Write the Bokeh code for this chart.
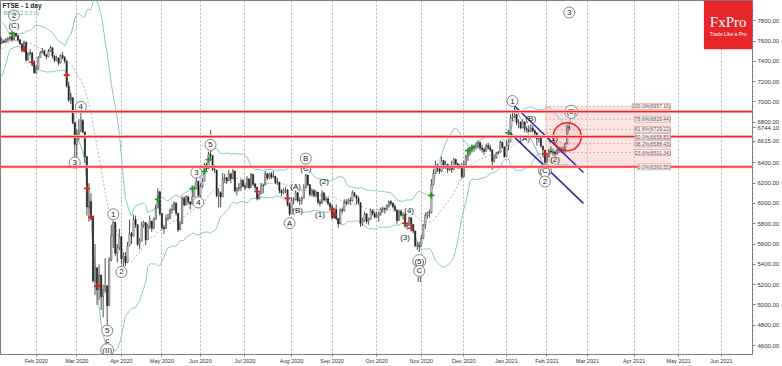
import numpy as np
import pandas as pd
from bokeh.plotting import figure
from bokeh.models import (Range1d, FixedTicker, NumeralTickFormatter,
                          Span, Label, BoxAnnotation)
from bokeh.core.properties import value
from bokeh.embed import file_html
from bokeh.resources import INLINE

# ---------------- data: FTSE daily bars, 10 Dec 2019 .. 16 Feb 2021 ----------------
close = [
    # Dec 2019
    7213, 7216, 7273, 7353, 7519, 7525, 7541, 7573, 7582, 7623, 7632, 7645, 7587, 7542,
    # Jan 2020
    7604, 7622, 7576, 7574, 7575, 7598, 7588, 7618, 7622, 7642, 7609, 7675, 7651, 7610, 7571,
    7507, 7586, 7412, 7481, 7483, 7381, 7286,
    # Feb 2020
    7326, 7439, 7483, 7504, 7466, 7446, 7499, 7534, 7452, 7409, 7433, 7382, 7457, 7437, 7404,
    7157, 7018, 7042, 6796, 6581,
    # Mar 2020
    6654, 6718, 6815, 6705, 6462, 5965, 6018, 5876, 5237, 5366, 5151, 5294, 5080, 5151, 5190,
    4994, 5446, 5688, 5816, 5510, 5563, 5672,
    # Apr 2020
    5454, 5480, 5416, 5582, 5704, 5678, 5843, 5791, 5597, 5628, 5787, 5812, 5641, 5770, 5826,
    5752, 5847, 5958, 6115, 5901,
    # May 2020
    5763, 5753, 5850, 5853, 5935, 5939, 6004, 5904, 5741, 5800, 6049, 5986, 6067, 6015, 5993,
    6068, 6144, 6218, 6077,
    # Jun 2020
    6166, 6220, 6382, 6341, 6484, 6473, 6335, 6329, 6077, 6105, 6064, 6243, 6253, 6224, 6293,
    6245, 6320, 6124, 6147, 6159, 6225, 6170,
    # Jul 2020
    6158, 6240, 6157, 6286, 6190, 6157, 6050, 6095, 6176, 6180, 6293, 6251, 6290, 6261, 6269,
    6207, 6211, 6124, 6104, 6129, 6132, 5990, 5898,
    # Aug 2020
    6032, 6037, 6105, 6027, 6032, 6050, 6154, 6280, 6185, 6090, 6127, 6076, 6112, 6013, 6001,
    6104, 6037, 6045, 6000, 5964,
    # Sep 2020
    5862, 5940, 5851, 5799, 5937, 5930, 6012, 6003, 6032, 6026, 6105, 6079, 6050, 6007, 5804,
    5829, 5899, 5822, 5843, 5927, 5898, 5866,
    # Oct 2020
    5879, 5902, 5942, 5949, 5946, 5978, 6017, 6001, 5969, 5935, 5833, 5920, 5884, 5890, 5777,
    5786, 5860, 5792, 5729, 5583, 5582, 5577,
    # Nov 2020
    5654, 5786, 5883, 5906, 5910, 6186, 6297, 6382, 6339, 6316, 6421, 6365, 6385, 6334, 6351,
    6334, 6432, 6391, 6362, 6368, 6266,
    # Dec 2020
    6385, 6463, 6490, 6550, 6555, 6559, 6564, 6599, 6547, 6531, 6513, 6570, 6551, 6529, 6416,
    6453, 6495, 6502, 6602, 6555, 6461,
    # Jan 2021
    6571, 6612, 6841, 6857, 6873, 6798, 6799, 6745, 6802, 6736, 6720, 6712, 6740, 6715, 6695,
    6638, 6654, 6567, 6526, 6407,
    # Feb 2021
    6466, 6516, 6507, 6504, 6489, 6524, 6532, 6524, 6529, 6589, 6756, 6744.10,
]
high = [
    7240, 7245, 7290, 7530, 7540, 7560, 7550, 7590, 7600, 7630, 7640, 7655, 7650, 7590,
    7610, 7625, 7625, 7610, 7590, 7630, 7615, 7625, 7640, 7650, 7650, 7690, 7680, 7660, 7620,
    7580, 7600, 7580, 7490, 7520, 7490, 7410,
    7360, 7450, 7500, 7530, 7510, 7470, 7520, 7555, 7535, 7460, 7450, 7440, 7470, 7490, 7450,
    7400, 7200, 7090, 7040, 6800,
    6730, 6830, 6900, 6830, 6700, 6250, 6200, 6100, 5880, 5600, 5370, 5400, 5300, 5200, 5460,
    5190, 5470, 5790, 5830, 5800, 5600, 5750,
    5680, 5520, 5520, 5620, 5840, 5720, 5890, 5880, 5790, 5660, 5820, 5830, 5800, 5800, 5880,
    5820, 5860, 5990, 6150, 6120,
    5900, 5790, 5890, 5900, 5950, 5990, 6020, 6010, 5900, 5830, 6070, 6070, 6080, 6070, 6020,
    6140, 6170, 6270, 6220,
    6200, 6250, 6400, 6400, 6510, 6520, 6470, 6380, 6310, 6150, 6120, 6300, 6290, 6260, 6330,
    6290, 6340, 6320, 6160, 6200, 6240, 6240,
    6200, 6270, 6250, 6300, 6290, 6200, 6170, 6110, 6200, 6190, 6320, 6290, 6300, 6310, 6320,
    6270, 6250, 6210, 6140, 6150, 6160, 6140, 6010,
    6060, 6060, 6130, 6110, 6060, 6070, 6190, 6290, 6280, 6190, 6150, 6140, 6130, 6110, 6040,
    6130, 6110, 6070, 6060, 6010,
    5990, 5960, 5990, 5850, 5950, 5960, 6040, 6040, 6050, 6060, 6130, 6110, 6080, 6070, 6010,
    5860, 5920, 5890, 5860, 5950, 5940, 5920,
    5920, 5920, 5960, 5970, 5960, 5990, 6030, 6030, 6010, 5990, 5940, 5940, 5940, 5910, 5900,
    5800, 5870, 5860, 5800, 5730, 5620, 5620,
    5690, 5800, 5910, 5920, 5940, 6240, 6340, 6420, 6390, 6360, 6460, 6430, 6420, 6390, 6380,
    6420, 6450, 6440, 6400, 6390, 6400,
    6420, 6480, 6510, 6560, 6570, 6580, 6600, 6620, 6610, 6580, 6550, 6590, 6600, 6580, 6520,
    6480, 6510, 6520, 6620, 6610, 6560,
    6620, 6630, 6880, 6900, 6957.10, 6880, 6830, 6810, 6830, 6810, 6760, 6770, 6780, 6770, 6730,
    6700, 6670, 6670, 6560, 6520,
    6490, 6540, 6560, 6540, 6520, 6550, 6560, 6560, 6560, 6600, 6770, 6780,
]
low = [
    7190, 7195, 7200, 7290, 7440, 7505, 7510, 7530, 7560, 7580, 7615, 7625, 7580, 7530,
    7540, 7560, 7540, 7560, 7520, 7575, 7580, 7580, 7590, 7600, 7600, 7610, 7640, 7590, 7560,
    7490, 7500, 7400, 7410, 7460, 7350, 7280,
    7280, 7320, 7440, 7480, 7450, 7420, 7440, 7495, 7430, 7390, 7400, 7360, 7380, 7420, 7380,
    7140, 7000, 6980, 6780, 6460,
    6450, 6620, 6700, 6690, 6400, 5880, 5820, 5850, 5220, 5100, 5000, 5050, 4950, 4880, 5120,
    4796, 5000, 5430, 5560, 5480, 5420, 5540,
    5400, 5380, 5380, 5430, 5580, 5600, 5690, 5760, 5580, 5550, 5640, 5760, 5590, 5650, 5750,
    5720, 5760, 5840, 5950, 5880,
    5740, 5700, 5760, 5830, 5850, 5900, 5930, 5880, 5720, 5740, 5800, 5970, 5980, 5990, 5940,
    5990, 6060, 6140, 6060,
    6060, 6150, 6230, 6310, 6340, 6420, 6320, 6300, 6060, 5960, 5960, 6080, 6200, 6190, 6220,
    6200, 6240, 6110, 6080, 6120, 6120, 6160,
    6130, 6160, 6140, 6160, 6170, 6130, 6030, 6040, 6090, 6100, 6180, 6230, 6240, 6240, 6250,
    6190, 6180, 6100, 6070, 6090, 6100, 5970, 5880,
    5900, 5990, 6030, 6010, 5980, 5990, 6050, 6150, 6170, 6070, 6070, 6060, 6060, 5990, 5970,
    6000, 6020, 6010, 5980, 5950,
    5840, 5850, 5840, 5760, 5800, 5900, 5920, 5980, 5990, 5990, 6020, 6060, 5990, 5990, 5770,
    5780, 5820, 5800, 5790, 5840, 5880, 5850,
    5860, 5820, 5880, 5910, 5900, 5930, 5960, 5980, 5950, 5920, 5800, 5830, 5870, 5840, 5760,
    5740, 5780, 5770, 5710, 5570, 5540, 5520,
    5580, 5650, 5750, 5850, 5860, 5900, 6180, 6290, 6310, 6290, 6310, 6340, 6340, 6300, 6320,
    6300, 6330, 6370, 6340, 6340, 6240,
    6260, 6370, 6420, 6470, 6500, 6510, 6530, 6540, 6520, 6500, 6480, 6510, 6530, 6510, 6330,
    6400, 6440, 6480, 6500, 6540, 6450,
    6460, 6520, 6600, 6810, 6840, 6770, 6740, 6730, 6740, 6700, 6700, 6700, 6700, 6700, 6660,
    6570, 6600, 6550, 6450, 6360.55,
    6400, 6450, 6490, 6470, 6460, 6480, 6500, 6500, 6490, 6500, 6590, 6720,
]
uk_holidays = ["2019-12-25", "2019-12-26", "2020-01-01", "2020-04-10", "2020-04-13",
               "2020-05-08", "2020-05-25", "2020-08-31", "2020-12-25", "2020-12-28", "2021-01-01"]

# y-axis tick labels (6600 is covered by the bid tag in the original) and price tags
y_ticks = [4600, 4800, 5000, 5200, 5400, 5600, 5800, 6000, 6200, 6400, 6800, 7000, 7200,
           7400, 7600, 7800]
tag_values = [6744.10, 6615.00]

# red horizontal support/resistance levels
red_levels = [6905, 6658.83, 6360.55]
# Fibonacci retracement
fib_ratios = [1.0, 0.786, 0.618, 0.5, 0.382, 0.236, 0.0]
fib_high, fib_low = 6957.10, 6360.55
fib_dates = ["2021-01-29", "2021-04-27"]
# down channel
chan_up_dates, chan_up_price = ["2021-01-08", "2021-02-25"], [6960, 6304]
chan_lo_dates, chan_lo_price = ["2021-01-06", "2021-02-25"], [6690, 6001]
wave_line_dates, wave_line_price = ["2021-01-08", "2021-01-29"], [6957, 6361]
proj_dates, proj_price = ["2021-02-15", "2021-02-17"], [6640, 6875]
circle_date, circle_price = "2021-02-15", 6657

# Elliott wave labels
wave_text = ["2", "(C)", "3", "4", "5", "c", "(II)", "1", "2", "3", "4", "5", "I",
             "A", "(A)", "(B)", "B", "(C)", "(1)", "(2)", "(3)", "(4)", "(5)", "C", "II",
             "1", "(A)", "(B)", "(C)", "2", "(1)", "(2)", "(3)", "3"]
wave_date = ["2020-01-17", "2020-01-17", "2020-02-28", "2020-03-04", "2020-03-23", "2020-03-23",
             "2020-03-23", "2020-03-26", "2020-04-01", "2020-05-28", "2020-05-29", "2020-06-08",
             "2020-06-08", "2020-07-31", "2020-08-05", "2020-08-06", "2020-08-12", "2020-08-12",
             "2020-08-21", "2020-08-25", "2020-10-21", "2020-10-23", "2020-10-30", "2020-10-30",
             "2020-10-30", "2021-01-07", "2021-01-15", "2021-01-20", "2021-01-29", "2021-01-29",
             "2021-02-04", "2021-02-05", "2021-02-17", "2021-02-16"]
wave_price = [7852, 7754, 6402, 6951, 4747, 4649, 4555, 5893, 5325, 6304, 6010, 6578, 6700,
              5805, 6167, 5932, 6441, 6343, 5893, 6216, 5668, 5932, 5432, 5335, 5246,
              7009, 6637, 6833, 6324, 6216, 6637, 6431, 6902, 7881]
wave_circled = [1, 0, 1, 1, 1, 0, 1, 1, 1, 1, 1, 1, 0,
                1, 0, 0, 1, 0, 0, 0, 0, 0, 1, 1, 0,
                1, 0, 0, 1, 1, 0, 0, 1, 1]

# signal markers
green_dates = ["2020-01-16", "2020-04-29", "2020-05-26", "2020-06-03", "2020-06-05",
               "2020-11-09", "2020-12-03", "2020-12-07", "2021-01-05"]
green_price = [7675, 6040, 6147, 6314, 6431, 6079, 6520, 6549, 6696]
red_dates = ["2020-01-24", "2020-01-30", "2020-02-24", "2020-03-09", "2020-03-11", "2020-03-16",
             "2020-07-09", "2020-07-30", "2020-09-01", "2020-09-02", "2020-10-21", "2020-10-26",
             "2021-01-29"]
red_price = [7519, 7391, 7264, 6147, 5863, 5188, 6118, 6050, 5942, 5883, 5805, 5756, 6490]

# ---------------- derived ----------------
days = pd.bdate_range("2019-12-10", "2021-07-30")
days = days[~days.isin(pd.to_datetime(uk_holidays))]
di = {d.strftime("%Y-%m-%d"): i for i, d in enumerate(days)}
N = len(close)
xs = np.arange(N)
c = np.array(close, float)
o = np.concatenate([[c[0]], c[:-1]])
h = np.maximum(np.array(high, float), np.maximum(o, c))
l = np.minimum(np.array(low, float), np.minimum(o, c))
s = pd.Series(c)
mid = s.rolling(20).mean()
sd = s.rolling(20).std(ddof=0)
upper = mid + 2 * sd
lower = mid - 2 * sd

month_ticks, month_labels = [], {}
seen = set()
for i, d in enumerate(days):
    key = (d.year, d.month)
    if key not in seen:
        seen.add(key)
        if d >= pd.Timestamp("2020-02-01"):
            month_ticks.append(i)
            month_labels[i] = d.strftime("%b %Y")

BAR_PX = 2.04
feb3 = di["2020-02-03"]
x_start = feb3 - 36 / BAR_PX
x_end = x_start + 757 / BAR_PX
y_start, y_end = 4512, 7999

p = figure(width=782, height=366,
           x_range=Range1d(x_start, x_end), y_range=Range1d(y_start, y_end),
           y_axis_location="right", output_backend="svg", toolbar_location=None,
           min_border_left=0, min_border_top=0, min_border_right=0, min_border_bottom=0)
p.outline_line_color = "#808080"
p.ygrid.grid_line_color = None
p.xgrid.ticker = FixedTicker(ticks=month_ticks)
p.xgrid.grid_line_color = "#a0a0a0"
p.xgrid.grid_line_dash = "2 2"
p.xgrid.grid_line_width = 0.8

p.xaxis.ticker = FixedTicker(ticks=month_ticks)
p.xaxis.major_label_overrides = month_labels
p.yaxis.ticker = FixedTicker(ticks=y_ticks + tag_values,
                             minor_ticks=list(range(4550, 8000, 50)))
p.yaxis.formatter = NumeralTickFormatter(format="0.00")
for ax in (p.xaxis[0], p.yaxis[0]):
    ax.major_label_text_font = "Liberation Sans"
    ax.major_label_text_color = "#333333"
    ax.axis_line_color = "#808080"
    ax.major_tick_line_color = "#808080"
    ax.minor_tick_line_color = "#808080"
    ax.major_tick_in = 0
    ax.minor_tick_in = 0
p.xaxis.major_label_text_font_size = "5.5px"
p.xaxis.major_tick_out = 2
p.xaxis.major_label_standoff = 1
p.yaxis.major_label_text_font_size = "6px"
p.yaxis.major_tick_out = 3
p.yaxis.minor_tick_out = 1
p.yaxis.major_label_standoff = 2

# fib box
fx0, fx1 = di[fib_dates[0]], di[fib_dates[1]]
p.quad(left=[fx0], right=[fx1], bottom=[fib_low], top=[fib_high],
       fill_color="#f2b8b8", fill_alpha=0.38, line_color=None)
fib_levels = [fib_low + r * (fib_high - fib_low) for r in fib_ratios]
for lv in fib_levels:
    p.line([fx0, fx1], [lv, lv], line_color="#e59a9a", line_width=0.8, line_dash="2 2")

# Bollinger bands
p.line(xs, upper, line_color="#8cc6c6", line_width=1)
p.line(xs, lower, line_color="#8cc6c6", line_width=1)
p.line(xs, mid, line_color="#9a9a9a", line_width=0.8, line_dash="2 2")

# candles
p.segment(x0=xs, y0=h, x1=xs, y1=l, line_color="#222222", line_width=0.8)
inc = c >= o
p.vbar(x=xs[inc], top=c[inc], bottom=o[inc], width=0.6, fill_color="white",
       line_color="#222222", line_width=0.5)
p.vbar(x=xs[~inc], top=o[~inc], bottom=c[~inc], width=0.6, fill_color="#222222",
       line_color="#222222", line_width=0.5)

# signals
p.scatter([di[d] for d in green_dates], green_price, marker="cross", size=6,
          line_color="#1f9a1f", line_width=1.6)
p.scatter([di[d] for d in red_dates], red_price, marker="cross", size=6,
          line_color="#d02020", line_width=1.6)

# red levels
for lv in red_levels:
    p.add_layout(Span(location=lv, dimension="width", line_color="#f6b0b0", line_width=3))
    p.add_layout(Span(location=lv, dimension="width", line_color="#ff2020", line_width=1.3))

# channel and wave lines
p.line([di[d] for d in chan_up_dates], chan_up_price, line_color="#2a2a9c", line_width=1.5)
p.line([di[d] for d in chan_lo_dates], chan_lo_price, line_color="#2a2a9c", line_width=1.5)
p.line([di[d] for d in wave_line_dates], wave_line_price, line_color="#8a8a8a", line_width=0.8)
p.line([di[d] for d in proj_dates], proj_price, line_color="#8a8a8a", line_width=0.8)
p.scatter([di[circle_date]], [circle_price], marker="circle", size=28, fill_color="#ff4040",
          fill_alpha=0.08, line_color="#ee2222", line_width=1.5)

# fib labels
for r, lv in zip(fib_ratios, fib_levels):
    p.add_layout(Label(x=fx1, y=lv, text=f"{r*100:.1f}%({lv:.2f})", text_align="right",
                       text_baseline="middle", text_font_size="5px", text_color="#555555",
                       text_font="Liberation Sans",
                       background_fill_color="#fdf3f3", border_line_color="#e3a3a3",
                       border_line_width=0.8))

# wave labels
wx = np.array([di[d] for d in wave_date])
wp = np.array(wave_price, float)
wc = np.array(wave_circled, bool)
wt = np.array(wave_text)
sizes = np.array([13 if len(t) > 2 else 11 for t in wave_text])
p.scatter(wx[wc], wp[wc], marker="circle", size=sizes[wc], fill_color="white",
          line_color="#666666", line_width=0.8)
p.text(wx, wp, text=list(wt), text_align="center", text_baseline="middle",
       text_font_size="8px", text_color="#222222", text_font=value("Liberation Sans"))

# title / indicator legend
p.add_layout(Label(x=x_start + 1.0, y=y_end - 12, text="FTSE - 1 day", text_font_size="6.5px",
                   text_font_style="bold", text_color="#222222", text_baseline="top",
                   text_font="Liberation Sans"))
p.add_layout(Label(x=x_start + 1.4, y=y_end - 95, text="BB(20,2.0,2.0)", text_font_size="5.5px",
                   text_color="#6fb3b3", text_baseline="top", text_font="Liberation Sans"))

# FxPro logo
p.add_layout(BoxAnnotation(left=x_end - 24, right=x_end, top=y_end, bottom=y_end - 480,
                           fill_color="#e8262a", fill_alpha=1.0, line_color=None))
p.add_layout(Label(x=x_end - 12, y=y_end - 215, text="FxPro", text_align="center",
                   text_baseline="middle", text_font_size="15px", text_color="white",
                   text_font="Liberation Serif"))
p.add_layout(Label(x=x_end - 12, y=y_end - 330, text="Trade Like a Pro", text_align="center",
                   text_baseline="middle", text_font_size="5px", text_color="white",
                   text_font="Liberation Sans"))

open("out.html", "w").write(file_html(p, INLINE))
